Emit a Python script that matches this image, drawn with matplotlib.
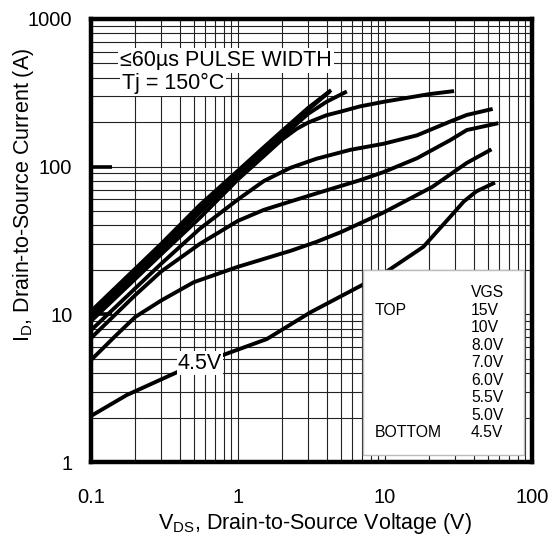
import matplotlib
matplotlib.use("Agg")
import matplotlib.pyplot as plt
import matplotlib.ticker as mticker
from matplotlib.patches import Rectangle

plt.rcParams["font.family"] = ["Liberation Sans", "DejaVu Sans"]
plt.rcParams["mathtext.fontset"] = "custom"
plt.rcParams["mathtext.rm"] = "Liberation Sans"

# VDS (V) / ID (A), one pair per VGS
vds_15 = [0.1, 0.3, 0.55, 1.0, 1.53, 2.0, 3.0, 4.3]
id_15 = [10.5, 30, 55, 94, 138, 175, 250, 330]

vds_10 = [0.1, 0.3, 0.55, 1.0, 1.53, 2.0, 3.0, 4.2]
id_10 = [10.0, 28.5, 52, 90, 133, 170, 243, 322]

vds_8 = [0.1, 0.3, 0.55, 1.0, 1.53, 2.0, 3.0, 4.0, 5.5]
id_8 = [9.5, 27, 49, 86, 127, 160, 228, 275, 323]

vds_7 = [0.1, 0.3, 0.55, 1.0, 1.5, 2.0, 2.5, 3.0, 4.0, 5.0, 6.76, 9.8, 20, 29.5]
id_7 = [9.0, 25.5, 45, 82, 118, 153, 180, 199, 223, 236, 256, 275, 310, 325]

vds_6 = [0.1, 0.2, 0.3, 0.55, 1.0, 1.5, 2.26, 3.4, 5.8, 9.8, 16.5, 27.7, 36, 54]
id_6 = [7.8, 15, 22, 38, 60, 80, 98, 113, 130, 143, 163, 202, 224, 246]

vds_55 = [0.1, 0.2, 0.3, 0.55, 1.0, 1.5, 2.26, 3.43, 6.76, 9.8, 16.5, 27.7, 36, 59]
id_55 = [6.9, 13.5, 19.5, 30, 43, 51, 58, 66, 81, 92, 114, 151, 177, 197]

vds_5 = [0.1, 0.15, 0.2, 0.3, 0.5, 1.0, 2.3, 3.43, 5.0, 9.8, 21, 36, 53]
id_5 = [4.9, 7.3, 9.6, 12.4, 16.5, 21, 27, 31, 36, 49, 73, 106, 131]

vds_45 = [0.1, 0.175, 0.39, 0.79, 1.57, 3.1, 7.0, 10.5, 18.2, 27.7, 34.3, 41.8, 56]
id_45 = [2.05, 2.84, 4.08, 5.3, 6.8, 10.3, 15.8, 19.8, 28.6, 45.6, 58, 68, 78]

curves = [(vds_15, id_15), (vds_10, id_10), (vds_8, id_8), (vds_7, id_7),
          (vds_6, id_6), (vds_55, id_55), (vds_5, id_5), (vds_45, id_45)]

vgs_labels = ["15V", "10V", "8.0V", "7.0V", "6.0V", "5.5V", "5.0V", "4.5V"]
x_ticks = [0.1, 1, 10, 100]
y_ticks = [1, 10, 100, 1000]

fig = plt.figure(figsize=(5.54, 5.41), dpi=100, facecolor="#fff")
ax = fig.add_axes([91 / 554, 79 / 541, 441 / 554, 443 / 541])
ax.set_xscale("log")
ax.set_yscale("log")

for vx, iy in curves:
    ax.plot(vx, iy, color="k", lw=2.8, solid_capstyle="butt", zorder=3)

ax.set_xlim(0.1, 100)
ax.set_ylim(1, 1000)

ax.xaxis.set_major_locator(mticker.FixedLocator(x_ticks))
ax.yaxis.set_major_locator(mticker.FixedLocator(y_ticks))
ax.xaxis.set_minor_locator(mticker.LogLocator(subs=range(2, 10)))
ax.yaxis.set_minor_locator(mticker.LogLocator(subs=range(2, 10)))
fmt = mticker.FuncFormatter(lambda v, _: f"{v:g}")
ax.xaxis.set_major_formatter(fmt)
ax.yaxis.set_major_formatter(fmt)
ax.xaxis.set_minor_formatter(mticker.NullFormatter())
ax.yaxis.set_minor_formatter(mticker.NullFormatter())

ax.grid(which="both", color="#222", lw=0.8)
ax.set_axisbelow(True)
ax.tick_params(which="minor", length=0)
ax.tick_params(axis="x", which="major", length=0, pad=19, labelsize=14.5)
ax.tick_params(axis="y", which="major", direction="in", length=15, width=2.6,
               pad=13.5, labelsize=14.5)
for s in ax.spines.values():
    s.set_linewidth(3.2)
    s.set_zorder(6)

# conditions text
box = dict(facecolor="#fff", edgecolor="none", pad=1.5)
ax.text(0.066, 0.907, "≤60µs PULSE WIDTH", transform=ax.transAxes, fontsize=15.5,
        va="center", ha="left", bbox=box, zorder=4)
ax.text(0.070, 0.8555, "Tj = 150°C", transform=ax.transAxes, fontsize=15.5,
        va="center", ha="left", bbox=box, zorder=4)
ax.text(0.552, 4.68, "4.5V", fontsize=15.5, va="center", ha="center",
        bbox=dict(facecolor="#fff", edgecolor="none", pad=1.0), zorder=4)

# VGS legend
ax.add_patch(Rectangle((0.617, 0.016), 0.365, 0.417, transform=ax.transAxes,
                       facecolor="#fff", edgecolor="#bbb", lw=1.0, zorder=5))
ax.text(0.8617, 0.383, "VGS", transform=ax.transAxes, fontsize=11.3,
        va="center", ha="left", zorder=7)
row_y0 = 0.343
row_dy = 0.0395
for i, lbl in enumerate(vgs_labels):
    ax.text(0.8617, row_y0 - i * row_dy, lbl, transform=ax.transAxes, fontsize=11.3,
            va="center", ha="left", zorder=7)
ax.text(0.644, row_y0, "TOP", transform=ax.transAxes, fontsize=11.3,
        va="center", ha="left", zorder=7)
ax.text(0.644, row_y0 - 7 * row_dy, "BOTTOM", transform=ax.transAxes, fontsize=11.3,
        va="center", ha="left", zorder=7)

fig.text(315 / 554, 1 - 524 / 541, "$\\mathregular{V_{DS}}$, Drain-to-Source Voltage (V)",
         fontsize=15.5, ha="center", va="center")
fig.text(24 / 554, 1 - 195 / 541, "$\\mathregular{I_D}$, Drain-to-Source Current (A)",
         fontsize=15.5, ha="center", va="center", rotation=90)

fig.savefig("out.png", dpi=100, facecolor=fig.get_facecolor())
